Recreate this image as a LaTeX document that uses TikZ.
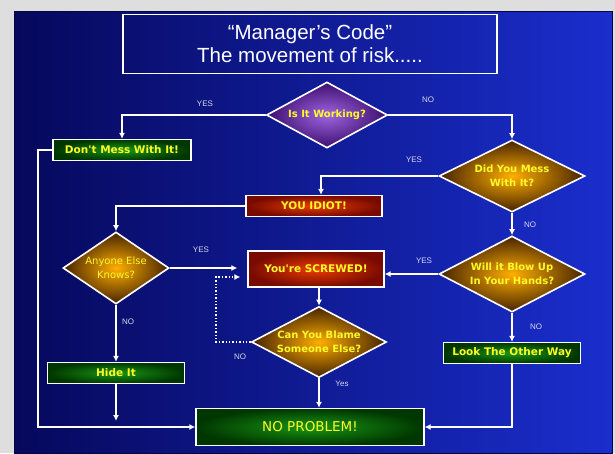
\documentclass[tikz,border=0pt]{standalone}
\usepackage{fontspec}
\setmainfont{Liberation Sans}
\newfontfamily\signfont{DejaVu Sans}
\usetikzlibrary{shapes.geometric,arrows.meta}

\definecolor{pagegray}{RGB}{222,222,222}
\definecolor{slidedark}{RGB}{6,8,92}
\definecolor{slidelight}{RGB}{26,46,205}
\definecolor{plumcore}{RGB}{160,100,225}
\definecolor{plumrim}{RGB}{60,15,110}
\definecolor{ambercore}{RGB}{255,175,0}
\definecolor{amberrim}{RGB}{70,35,0}
\definecolor{redcore}{RGB}{235,60,0}
\definecolor{redrim}{RGB}{120,10,0}
\definecolor{leafcore}{RGB}{25,150,20}
\definecolor{leafrim}{RGB}{0,55,0}
\definecolor{signyellow}{RGB}{255,250,40}
\definecolor{tagtext}{RGB}{215,215,235}

\begin{document}
\begin{tikzpicture}[x=1pt, y=-1pt, >={Latex[length=6pt,width=6pt]},
    flow/.style={draw=white, line width=1.4pt, ->},
    choice/.style={diamond, aspect=1.9, draw=white, line width=1.6pt, inner color=ambercore, outer color=amberrim,
      text=signyellow, font=\signfont\bfseries\fontsize{10}{14}\selectfont, align=center, inner sep=0pt},
    plate/.style={rectangle, draw=white, line width=1.3pt, text=signyellow,
      font=\signfont\bfseries\fontsize{10.5}{12}\selectfont, inner sep=0pt},
    greenplate/.style={plate, inner color=leafcore, outer color=leafrim},
    redplate/.style={plate, inner color=redcore, outer color=redrim},
    tag/.style={text=tagtext, font=\fontsize{8}{9}\selectfont, inner sep=1pt}]
  \useasboundingbox (0,0) rectangle (615,453);
  \fill[pagegray] (0,0) rectangle (615,453);
  \shade[left color=slidedark, right color=slidelight] (14,11) rectangle (612,453);
  \draw[slidedark!70!black, line width=1pt] (14,11) rectangle (612,453);

  \node[draw=white, line width=1.5pt, minimum width=374, minimum height=59, align=center,
    text=white, font=\fontsize{20.5}{23}\selectfont] (title) at (310,44)
    {``Manager's Code''\\The movement of risk.....};

  % decisions
  \node[choice, inner color=plumcore, outer color=plumrim, minimum width=121, minimum height=66]
    (working) at (327,115) {Is It Working?};
  \node[choice, minimum width=146, minimum height=72] (messed) at (512,176) {Did You Mess\\With It?};
  \node[choice, minimum width=146, minimum height=76] (blowup) at (512,274) {Will it Blow Up\\In Your Hands?};
  \node[choice, font=\signfont\fontsize{10}{13.5}\selectfont, minimum width=106, minimum height=72]
    (knows) at (116,268) {Anyone Else\\Knows?};
  \node[choice, minimum width=135, minimum height=71] (blame) at (319,342) {Can You Blame\\Someone Else?};

  % outcomes
  \node[greenplate, minimum width=138, minimum height=21] (leave) at (122,150) {Don't Mess With It!};
  \node[redplate, minimum width=136, minimum height=21] (idiot) at (314,206) {YOU IDIOT!};
  \node[redplate, minimum width=136, minimum height=36] (screwed) at (316,269) {You're SCREWED!};
  \node[greenplate, minimum width=137, minimum height=21] (hide) at (116,373) {Hide It};
  \node[greenplate, minimum width=137, minimum height=21] (look) at (512,353) {Look The Other Way};
  \node[greenplate, font=\signfont\fontsize{13.5}{15}\selectfont, minimum width=228, minimum height=37]
    (fine) at (310,427) {NO PROBLEM!};

  \coordinate (rail) at (38,427);
  \coordinate (hidetip) at (116,421);
  \coordinate (loop) at (216,342);

  \draw[flow] (working.west) -| (leave.north);
  \draw[flow] (working.east) -| (messed.north);
  \draw[flow] (messed.west) -| ([xshift=7pt]idiot.north);
  \draw[flow] (idiot.west) -| (knows.north);
  \draw[flow] (messed.south) -- (blowup.north);
  \draw[flow] (blowup.west) -- (blowup.west -| screwed.east);
  \draw[flow, shorten >=10pt] (knows.east) -- (knows.east -| screwed.west);
  \draw[flow, dotted, shorten >=7pt] (blame.west) -- (loop) |- ([yshift=-8pt]screwed.west);
  \draw[flow] (screwed.south -| blame.north) -- (blame.north);
  \draw[flow] (blame.south) -- (blame.south |- fine.north);
  \draw[flow] (knows.south) -- (hide.north);
  \draw[flow] (hide.south) -- (hidetip);
  \draw[flow] (leave.west) -| (rail) -- (fine.west);
  \draw[flow] (blowup.south) -- (look.north);
  \draw[flow] (look.south) |- (fine.east);

  % answers
  \node[tag] (yesA) at (205,104) {YES};
  \node[tag] (noA) at (428,100) {NO};
  \node[tag] (yesB) at (414,160) {YES};
  \node[tag] (noB) at (530,225) {NO};
  \node[tag] (yesC) at (201,250) {YES};
  \node[tag] (yesD) at (424,261) {YES};
  \node[tag] (noC) at (128,322) {NO};
  \node[tag] (noD) at (536,327) {NO};
  \node[tag] (noE) at (240,357) {NO};
  \node[tag] (yesE) at (342,384) {Yes};
\end{tikzpicture}
\end{document}
